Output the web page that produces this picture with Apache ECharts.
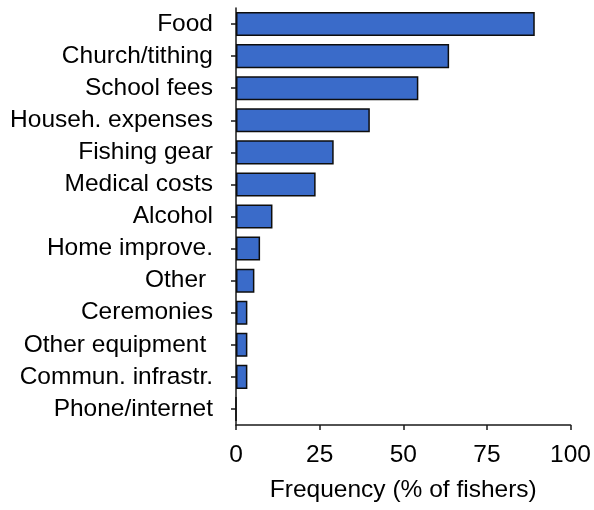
<!DOCTYPE html>
<html>
<head>
<meta charset="utf-8">
<script src="https://cdn.jsdelivr.net/npm/echarts@6/dist/echarts.min.js"></script>
<style>
html,body{margin:0;padding:0;background:#fff;}
#chart{width:594px;height:510px;}
</style>
</head>
<body>
<div id="chart"></div>
<script>
const categories = ["Food","Church/tithing","School fees","Househ. expenses","Fishing gear","Medical costs","Alcohol","Home improve.","Other ","Ceremonies","Other equipment ","Commun. infrastr.","Phone/internet"];
const values = [89.3, 63.7, 54.5, 40.0, 29.2, 23.8, 10.9, 7.2, 5.5, 3.4, 3.4, 3.4, 0];
const xTicks = [0, 25, 50, 75, 100];

const chart = echarts.init(document.getElementById('chart'), null, {renderer: 'canvas'});
const font = "'Liberation Sans', Arial, sans-serif";
chart.setOption({
  animation: false,
  backgroundColor: '#ffffff',
  grid: {left: 236, right: 23, top: 8, bottom: 85, containLabel: false},
  xAxis: {
    type: 'value', min: xTicks[0], max: xTicks[xTicks.length-1], interval: 25,
    name: 'Frequency (% of fishers)', nameLocation: 'middle', nameGap: 53,
    nameTextStyle: {fontFamily: font, fontSize: 24.5, color: '#000'},
    axisLine: {show: true, lineStyle: {color: '#1a1a1a', width: 1.5}},
    axisTick: {show: true, length: 5, lineStyle: {color: '#1a1a1a', width: 1.5}},
    axisLabel: {fontFamily: font, fontSize: 24.5, color: '#000', margin: 18},
    splitLine: {show: false}
  },
  yAxis: {
    type: 'category', data: categories, inverse: true,
    axisLine: {show: true, lineStyle: {color: '#1a1a1a', width: 1.5}},
    axisTick: {show: true, length: 5, alignWithLabel: true, lineStyle: {color: '#1a1a1a', width: 1.5}},
    axisLabel: {fontFamily: font, fontSize: 24.5, color: '#000', margin: 23, interval: 0, hideOverlap: false}
  },
  series: [{
    type: 'bar', data: values, barCategoryGap: '25%',
    itemStyle: {color: '#3a6bc9', borderColor: '#0d0d0d', borderWidth: 1.5}
  }]
});
</script>
</body>
</html>
